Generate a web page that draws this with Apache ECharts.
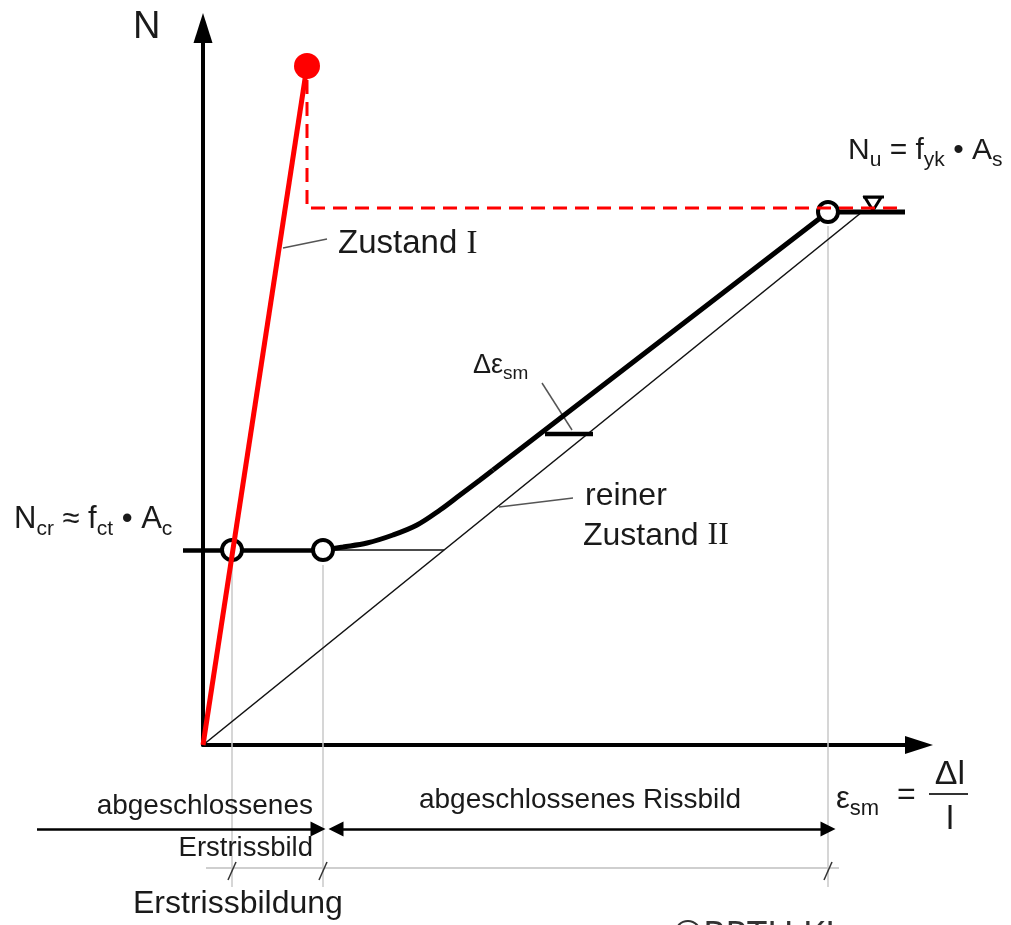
<!DOCTYPE html>
<html><head><meta charset="utf-8">
<script src="https://cdn.jsdelivr.net/npm/echarts@6/dist/echarts.min.js"></script>
<style>html,body{margin:0;padding:0;background:#fff}#c{width:1011px;height:925px}</style>
</head><body><div id="c"></div>
<script>
// ---- data (axis units: x = elongation Δl, y = force N; origin at axis crossing) ----
const xRange = [0, 716];
const yRange = [0, 717];
const stateI = [[0, 0], [104, 679]];
const stateIPeak = [[104, 679]];
const stateIIpure = [[0, 0], [659, 533]];
const crackPlateau = [[-20, 195], [120, 195]];
const crackRef = [[120, 195], [241, 195]];
const tensionCurve = [[120, 195], [140, 198], [164, 202], [190, 210], [214, 220], [237, 235], [257, 250], [277, 265], [290, 275]];
const tensionLinear = [[290, 275], [625, 533], [702, 533]];
const redDashed = [[104, 665], [104, 537], [702, 537]];
const openCircles = [[29, 195], [120, 195], [625, 533]];
const yieldMark = [[670, 541]];
const yieldMarkBar = [[660, 548], [681, 548]];
const deltaMark = [[342, 311], [390, 311]];
const leaderStateI = [[80, 497], [124, 506]];
const leaderStateII = [[296, 238], [370, 247]];
const leaderDelta = [[339, 362], [369, 315]];
const dropLines = [[[29, 180], [29, -142]], [[120, 180], [120, -142]], [[625, 519], [625, -142]]];
const dimBase = [[3, -123], [636, -123]];
const slashes = [[[25, -135], [33, -117]], [[116, -135], [124, -117]], [[621, -135], [629, -117]]];
const arrowFirst = [[-166, -84], [115, -84]];
const arrowFull = [[133, -84], [625, -84]];

const FONT = 'Liberation Sans, Arial, sans-serif';
const TXT = '#1a1a1a';

function seg(data, color, width, z, extra) {
  return Object.assign({
    type: 'line', data: data, symbol: 'none', showSymbol: false, clip: false, silent: true,
    animation: false, z: z, lineStyle: { color: color, width: width, cap: 'butt' }
  }, extra || {});
}
function arrow(data, syms, z, width, size) {
  return {
    type: 'lines', coordinateSystem: 'cartesian2d', polyline: false, clip: false, silent: true,
    animation: false, z: z, symbol: syms, symbolSize: size || 15,
    lineStyle: { color: '#000', width: width || 2.5, opacity: 1 },
    data: [{ coords: data }]
  };
}

const series = [];
dropLines.forEach(d => series.push(seg(d, '#c9c9c9', 1.5, 1)));
series.push(seg(dimBase, '#cfcfcf', 2, 1));
slashes.forEach(d => series.push(seg(d, '#333', 1.5, 2)));
series.push(arrow(arrowFirst, ['none', 'triangle'], 3));
series.push(arrow(arrowFull, ['triangle', 'triangle'], 3));
series.push(seg(stateIIpure, '#111', 1.6, 2));
series.push(seg(crackRef, '#111', 1.6, 2));
series.push(seg(leaderStateI, '#555', 1.5, 2));
series.push(seg(leaderStateII, '#555', 1.5, 2));
series.push(seg(leaderDelta, '#555', 1.5, 2));
series.push(arrow(crackPlateau, ['none', 'none'], 3, 4.5));
series.push(seg(tensionCurve, '#000', 5, 3, { smooth: 0.35 }));
series.push(seg(tensionLinear, '#000', 5, 3));
series.push(seg(deltaMark, '#000', 4.5, 3));
series.push(seg(yieldMarkBar, '#000', 3, 3));
series.push({
  type: 'scatter', data: yieldMark, symbol: 'triangle', symbolRotate: 180, symbolSize: [16, 13],
  itemStyle: { color: '#fff', borderColor: '#000', borderWidth: 2.8, opacity: 1 }, z: 4, silent: true, animation: false, clip: false
});
series.push({
  type: 'scatter', data: openCircles, symbol: 'circle', symbolSize: 20,
  itemStyle: { color: '#fff', borderColor: '#000', borderWidth: 4, opacity: 1 }, z: 4, silent: true, animation: false, clip: false
});
series.push(seg(redDashed, '#ff0000', 3, 5, { lineStyle: { color: '#ff0000', width: 3, type: [14, 8] } }));
series.push(seg(stateI, '#ff0000', 5, 6));
series.push({
  type: 'scatter', data: stateIPeak, symbol: 'circle', symbolSize: 26,
  itemStyle: { color: '#ff0000', opacity: 1 }, z: 6, silent: true, animation: false, clip: false
});

function txt(text, x, y, size, align, rich, extra) {
  return Object.assign({
    type: 'text', x: x, y: y, silent: true, z: 10,
    style: {
      text: text, fontSize: size, fontFamily: FONT, fill: TXT,
      align: align || 'left', verticalAlign: 'middle', rich: rich || undefined
    }
  }, extra || {});
}
const subRich = (main, sub, lh) => ({
  b: { fontSize: main, fontFamily: FONT, color: TXT, lineHeight: lh, verticalAlign: 'middle' },
  s: { fontSize: sub, fontFamily: FONT, color: TXT, lineHeight: Math.round(sub * 1.05), verticalAlign: 'bottom' },
  r: { fontSize: main, fontFamily: 'Liberation Serif, serif', color: TXT, lineHeight: lh, verticalAlign: 'middle' }
});

const graphics = [
  txt('N', 133, 28, 38),
  txt('{b|Zustand }{r|I}', 338, 244, 33, 'left', subRich(33, 20, 38)),
  txt('reiner', 585, 496, 32),
  txt('{b|Zustand }{r|II}', 583, 536, 32, 'left', subRich(32, 20, 38)),
  txt('{b|N}{s|cr}{b| ≈ f}{s|ct}{b| • A}{s|c}', 14, 519, 31, 'left', subRich(31, 21, 41)),
  txt('{b|N}{s|u}{b| = f}{s|yk}{b| • A}{s|s}', 848, 151, 30, 'left', subRich(30, 21, 39)),
  txt('{b|Δε}{s|sm}', 473, 366, 27, 'left', subRich(27, 19, 34)),
  txt('{b|ε}{s|sm}', 836, 799, 31, 'left', subRich(31, 22, 41)),
  txt('=', 897, 795, 32),
  txt('Δl', 950, 775, 34, 'center'),
  txt('l', 950, 820, 34, 'center'),
  { type: 'line', shape: { x1: 929, y1: 794, x2: 968, y2: 794 }, style: { stroke: '#333', lineWidth: 2 }, silent: true, z: 10 },
  txt('abgeschlossenes', 313, 806, 28, 'right'),
  txt('Erstrissbild', 313, 848, 27.5, 'right'),
  txt('abgeschlossenes Rissbild', 580, 800, 28, 'center'),
  txt('Erstrissbildung', 133, 904, 32),
  { type: 'text', x: 673, y: 937, silent: true, z: 10,
    style: { text: '©RPTU KL', fontSize: 36, fontFamily: 'Noto Sans, sans-serif', fill: '#333', align: 'left', verticalAlign: 'middle' } }
];

const chart = echarts.init(document.getElementById('c'), null, { renderer: 'canvas' });
const axisCommon = (size) => ({
  type: 'value', show: true,
  axisLine: { show: true, onZero: false, symbol: ['none', 'triangle'], symbolSize: size, lineStyle: { color: '#000', width: 4 } },
  axisTick: { show: false }, axisLabel: { show: false }, splitLine: { show: false }
});
chart.setOption({
  backgroundColor: '#fff',
  animation: false,
  grid: { left: 203, top: 28, width: 716, height: 717, containLabel: false },
  xAxis: Object.assign(axisCommon([18, 28]), { min: xRange[0], max: xRange[1] }),
  yAxis: Object.assign(axisCommon([19, 30]), { min: yRange[0], max: yRange[1] }),
  series: series,
  graphic: graphics
});
</script>
</body></html>
